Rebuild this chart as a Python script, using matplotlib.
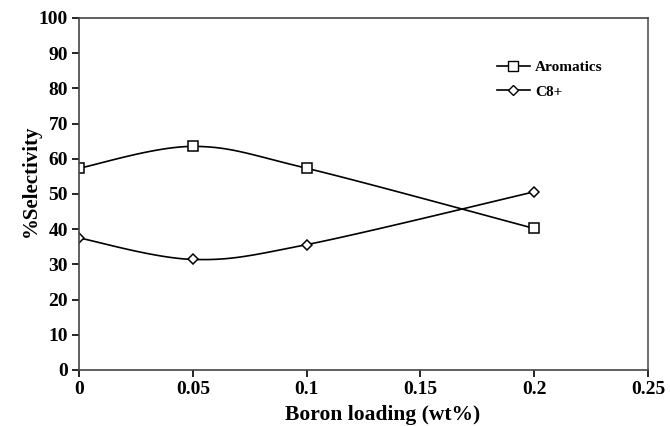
import numpy as np
import matplotlib
matplotlib.use("Agg")
import matplotlib.pyplot as plt
from matplotlib.lines import Line2D

x_vals = [0, 0.05, 0.1, 0.2]
aromatics = [57.3, 63.5, 57.3, 40.2]
c8plus = [37.5, 31.4, 35.6, 50.6]
xticks = [0, 0.05, 0.1, 0.15, 0.2, 0.25]
xtick_labels = ["0", "0.05", "0.1", "0.15", "0.2", "0.25"]
yticks = list(range(0, 101, 10))

def smooth(xs, ys, n=40):
    # Excel-like smoothed line (cubic Bezier, tension 1/6)
    P = np.column_stack([xs, ys]).astype(float)
    P = np.vstack([P[0], P, P[-1]])
    out = []
    t = np.linspace(0, 1, n)[:, None]
    for i in range(1, len(P) - 2):
        p0, p1, p2, p3 = P[i - 1], P[i], P[i + 1], P[i + 2]
        c1 = p1 + (p2 - p0) / 6
        c2 = p2 - (p3 - p1) / 6
        seg = ((1 - t) ** 3) * p1 + 3 * ((1 - t) ** 2) * t * c1 + 3 * (1 - t) * t ** 2 * c2 + t ** 3 * p2
        out.append(seg)
    s = np.vstack(out)
    return s[:, 0], s[:, 1]

plt.rcParams['font.family'] = ['Liberation Serif', 'DejaVu Serif']
plt.rcParams['font.weight'] = 'bold'

fig = plt.figure(figsize=(6.7, 4.26), dpi=100)
ax = fig.add_axes([0.118, 0.1315, 0.849, 0.8265])

for ys, mk, ms in [(aromatics, 's', 7), (c8plus, 'D', 5.5)]:
    sx, sy = smooth(x_vals, ys)
    ax.plot(sx, sy, color='black', lw=1.2)
    ax.plot(x_vals, ys, linestyle='none', marker=mk, ms=ms, mfc='white', mec='black', mew=1.1)

ax.set_xlim(0, 0.25)
ax.set_ylim(0, 100)
ax.set_xticks(xticks)
ax.set_xticklabels(xtick_labels)
ax.set_yticks(yticks)
ax.tick_params(direction='out', length=5, width=1.2, labelsize=14, colors='black', pad=3)
for lab in ax.get_xticklabels() + ax.get_yticklabels():
    lab.set_fontweight('bold')
for sp in ax.spines.values():
    sp.set_linewidth(1.2)
    sp.set_color('#444444')
ax.spines['right'].set_color('#555555')

ax.set_xlabel('Boron loading (wt%)', fontsize=15.5, fontweight='bold')
ax.set_ylabel('%Selectivity', fontsize=15, fontweight='bold')
ax.xaxis.set_label_coords(0.534, -0.128)
ax.yaxis.set_label_coords(-0.084, 0.537)
ax.xaxis.label.set_va('center')
ax.yaxis.label.set_va('center')

handles = [
    Line2D([], [], color='black', lw=1.2, marker='s', ms=7, mfc='white', mec='black'),
    Line2D([], [], color='black', lw=1.2, marker='D', ms=5, mfc='white', mec='black'),
]
ax.legend(handles, ['Aromatics', 'C8+'], loc='upper left', bbox_to_anchor=(0.71, 0.918),
          frameon=False, prop={'size': 11, 'weight': 'bold'}, handlelength=2.2,
          handletextpad=0.3, labelspacing=0.7)

fig.savefig('out.png', dpi=100)
